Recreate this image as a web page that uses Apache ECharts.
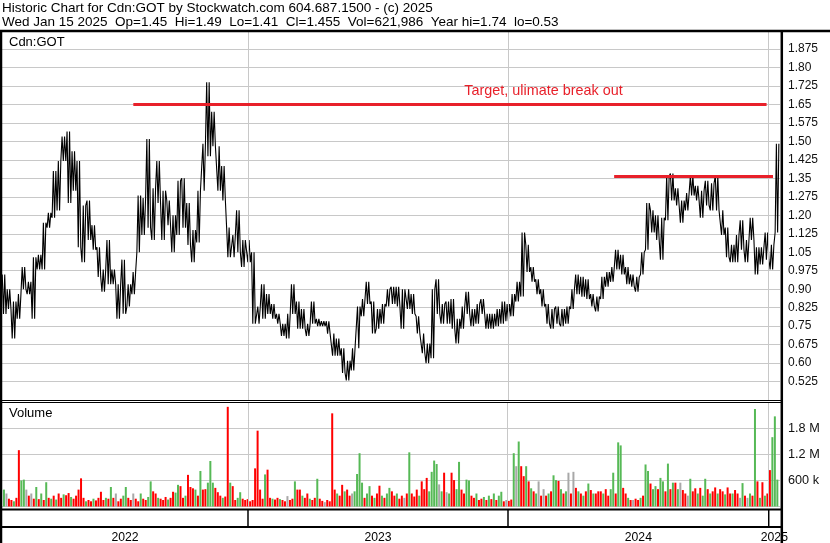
<!DOCTYPE html>
<html><head><meta charset="utf-8">
<script src="https://cdn.jsdelivr.net/npm/echarts@6/dist/echarts.min.js"></script>
<style>html,body{margin:0;padding:0;background:#fff}#c{width:830px;height:543px}</style>
</head><body><div id="c"></div>
<script>
// ---- DATA ----
// weekly high / low of Cdn:GOT, one entry per week starting Fri 2022-01-21
const weekHi = [0.96,0.90,0.85,0.88,0.99,0.93,1.03,1.04,1.17,1.21,1.38,1.42,1.52,1.54,1.46,1.42,1.24,1.26,1.16,1.07,
0.98,1.10,0.98,0.92,1.02,0.92,0.97,1.28,1.27,1.51,1.31,1.42,1.30,1.26,1.20,1.34,1.35,1.25,1.14,1.30,
1.49,1.74,1.62,1.48,1.40,1.15,1.12,1.22,1.10,1.10,1.05,0.83,0.92,0.88,0.84,0.80,0.76,0.80,0.92,0.85,
0.82,0.76,0.85,0.78,0.77,0.77,0.72,0.70,0.66,0.61,0.66,0.83,0.86,0.93,0.85,0.82,0.84,0.90,0.91,0.91,
0.90,0.90,0.88,0.79,0.72,0.68,0.90,0.94,0.84,0.85,0.86,0.78,0.83,0.89,0.82,0.84,0.86,0.80,0.80,0.82,
0.85,0.84,0.88,0.93,1.13,1.08,0.99,0.94,0.90,0.84,0.82,0.83,0.82,0.83,0.90,0.96,0.95,0.94,0.88,0.87,
0.95,0.97,0.99,1.06,1.04,0.99,0.96,0.95,1.05,1.25,1.22,1.20,1.19,1.36,1.37,1.31,1.26,1.29,1.36,1.32,
1.30,1.34,1.33,1.36,1.22,1.15,1.08,1.12,1.18,1.10,1.19,1.07,1.07,1.13,1.08,1.49];
const weekLo = [0.80,0.82,0.70,0.78,0.90,0.88,0.78,0.98,0.98,1.15,1.19,1.22,1.42,1.25,1.30,1.07,1.01,1.10,1.06,0.95,
0.89,0.92,0.92,0.78,0.80,0.83,0.88,1.05,1.12,1.15,1.10,1.25,1.10,1.16,1.05,1.12,1.15,1.08,1.01,1.09,
1.30,1.44,1.48,1.30,1.26,1.03,1.03,1.05,0.99,1.01,0.76,0.76,0.78,0.80,0.78,0.76,0.71,0.70,0.80,0.74,
0.74,0.71,0.76,0.75,0.75,0.72,0.63,0.63,0.56,0.53,0.57,0.66,0.79,0.84,0.72,0.74,0.76,0.83,0.84,0.83,
0.74,0.82,0.80,0.72,0.64,0.60,0.62,0.80,0.76,0.76,0.74,0.68,0.74,0.80,0.75,0.76,0.80,0.74,0.74,0.75,
0.76,0.77,0.79,0.85,0.87,0.97,0.93,0.88,0.83,0.76,0.74,0.76,0.75,0.76,0.82,0.88,0.87,0.86,0.83,0.81,
0.86,0.91,0.93,0.98,0.96,0.92,0.91,0.89,0.96,1.06,1.13,1.10,1.02,1.18,1.26,1.24,1.17,1.22,1.28,1.26,
1.19,1.24,1.22,1.22,1.12,1.03,1.01,1.01,1.06,1.01,1.10,0.96,1.00,1.02,0.98,1.13];
// last session (header)
const lastDay = {date:'2025-01-15', label:'Wed Jan 15 2025', op:1.45, hi:1.49, lo:1.41, cl:1.455, vol:'621,986'};
const yearHi = 1.74, yearLo = 0.53;
// volume, in thousands, two bars per week; colour codes r=down g=up n=unchanged
const volK = [390,300,180,150,120,200,1300,600,620,390,250,300,180,450,170,300,150,560,200,180,
250,160,300,200,280,260,310,220,180,250,390,650,200,120,150,120,180,140,200,340,
150,200,180,450,200,300,120,180,250,450,200,150,300,180,120,300,180,150,220,580,
350,300,200,180,150,220,160,200,340,320,500,470,200,250,730,450,420,390,250,820,
390,400,550,1050,550,430,330,250,200,230,2300,550,470,150,200,330,180,150,170,120,
150,880,1750,390,180,740,850,200,180,160,200,170,150,120,240,150,180,580,390,390,
250,200,300,180,150,200,640,180,130,100,150,120,2150,390,300,250,500,350,390,250,
300,350,750,1230,550,200,300,470,250,200,300,480,250,200,300,430,350,250,300,180,
250,200,300,1250,300,230,390,250,580,400,660,350,800,1060,980,510,350,780,330,300,
780,610,400,1030,390,300,620,600,250,200,300,150,180,220,150,250,170,300,150,250,
340,120,150,130,160,1230,930,1500,930,700,930,580,420,350,300,580,250,400,250,300,
350,720,610,590,400,300,350,780,300,800,430,350,300,250,350,530,380,300,300,350,
350,300,400,250,400,780,300,1480,1410,430,300,200,150,150,180,150,200,250,970,820,
530,400,470,400,660,580,350,990,400,550,550,400,550,380,300,250,640,350,420,300,
430,250,640,400,300,350,440,300,400,350,280,440,300,300,380,300,200,540,250,200,
300,250,2250,580,200,560,250,300,840,1600,2080,620];
const volC = "gnrrgrrggnrnrgrgrgrg"+"rgrrgrrgrrrrrgrrgrrr"+"rgrgrnrrggrrnrrgrrgg"+"rrgrrrgrrggrrgrrrgrg"+
"rrgggrrrgrrgrrggrrrr"+"rrrrrgrrgrrgrrnrrgrr"+"grrgrrgrrnrrrrgrrgrr"+"nggggrggrgrrgrggrrgr"+
"rnrgrrrgrrrggggngrng"+"rrggrrggrrgrrgrgrgrg"+"grnrrgngrrgrgrgnrnrg"+"rggrgrgnrnrgrgrgrgrr"+
"rgrrggrggrrgrnrrgrgg"+"rggrggrgrgrgnrrngrrg"+"rggrgrrgrrgrrgrrngrn"+"grgrgrgrrggg";
const yearLabels = ['2022','2023','2024','2025'];
// annotations
const targetLine = {from:'2022-07-24', to:'2024-12-29', value:1.65, text:'Target, ulimate break out', textAt:'2023-10-31', textValue:1.705};
const resistLine = {from:'2024-05-29', to:'2025-01-07', value:1.36};

// ---- BUILD ----
const DAY = 86400000;
const t = s => Date.parse(s + 'T00:00:00Z');
const seriesStart = Date.UTC(2022,0,21);
const xMin = Date.UTC(2022,0,20,16), xMax = Date.UTC(2025,0,16,20);
const RED = '#e8202a', GRID = '#c8c8c8', FONT = 'Liberation Sans, Arial, sans-serif';

// each week's high/low drawn as a dense high-low stroke pattern (like daily range bars)
const pricePts = [];
for (let w = 0; w < weekHi.length; w++) {
  const t0 = seriesStart + 7*w*DAY;
  const mid = (weekHi[w] + weekLo[w]) / 2;
  const next = w + 1 < weekHi.length ? (weekHi[w+1] + weekLo[w+1]) / 2 : lastDay.cl;
  const seq = next >= mid ? [weekLo[w], weekHi[w]] : [weekHi[w], weekLo[w]];
  pricePts.push([t0, seq[0]], [t0 + 1.75*DAY, seq[1]], [t0 + 3.5*DAY, seq[0]], [t0 + 5.25*DAY, seq[1]]);
}
pricePts.push([t(lastDay.date), lastDay.cl]);

const colorMap = {r:'#ff0000', g:'#56b956', n:'#a8a8a8'};
const volData = volK.map((v, j) => ({value:[seriesStart + (3.5*j + 1)*DAY, v], itemStyle:{color:colorMap[volC[j]]}}));
const yearStarts = yearLabels.slice(1).map(y => Date.UTC(+y,0,1));

const header = 'Historic Chart for Cdn:GOT by Stockwatch.com 604.687.1500 - (c) 2025\n' +
  `${lastDay.label}  Op=${lastDay.op}  Hi=${lastDay.hi}  Lo=${lastDay.lo}  Cl=${lastDay.cl}  Vol=${lastDay.vol}  Year hi=${yearHi}  lo=${yearLo}`;

const priceFmt = v => { let s = (Math.round(v*1000)/1000).toFixed(3); if (s.endsWith('0')) s = s.slice(0,-1); return s; };
const volFmt = v => v >= 1000 ? (v/1000).toFixed(1) + ' M' : v + ' k';

const xBase = {type:'time', min:xMin, max:xMax, axisLine:{show:false}, axisTick:{show:false}, axisLabel:{show:false}, splitLine:{show:false}};
const chart = echarts.init(document.getElementById('c'), null, {renderer:'canvas'});
chart.setOption({
  animation:false,
  backgroundColor:'#fff',
  title:[
    {text:header, left:2, top:2, padding:0, textStyle:{fontFamily:FONT, fontSize:13.5, fontWeight:'normal', color:'#000', lineHeight:13.4}},
    {text:'Cdn:GOT', left:9, top:35.5, padding:0, textStyle:{fontFamily:FONT, fontSize:13, fontWeight:'normal', color:'#000', lineHeight:13}},
    {text:'Volume', left:9, top:406.5, padding:0, textStyle:{fontFamily:FONT, fontSize:13, fontWeight:'normal', color:'#000', lineHeight:13}}
  ],
  grid:[
    {left:2, width:778, top:30.5, height:369.6},
    {left:2, width:778, top:402.5, height:104},
    {left:2, width:778, top:509, height:34}
  ],
  xAxis:[Object.assign({gridIndex:0}, xBase), Object.assign({gridIndex:1}, xBase), Object.assign({gridIndex:2}, xBase)],
  yAxis:[
    {gridIndex:0, type:'value', position:'right', min:0.45, max:1.95, interval:0.075,
      axisLine:{show:false}, axisTick:{show:false},
      axisLabel:{formatter:priceFmt, showMinLabel:false, showMaxLabel:false, margin:8, color:'#111', fontFamily:FONT, fontSize:12},
      splitLine:{show:true, lineStyle:{color:GRID, width:1}}},
    {gridIndex:1, type:'value', position:'right', min:0, max:2400, interval:600,
      axisLine:{show:false}, axisTick:{show:false},
      axisLabel:{formatter:volFmt, showMinLabel:false, showMaxLabel:false, margin:8, color:'#111', fontFamily:FONT, fontSize:12.7},
      splitLine:{show:true, lineStyle:{color:GRID, width:1}}},
    {gridIndex:2, type:'value', min:0, max:1, show:false}
  ],
  series:[
    {type:'line', xAxisIndex:0, yAxisIndex:0, data:[], z:1, silent:true,
      markLine:{silent:true, symbol:['none','none'], label:{show:false}, lineStyle:{color:GRID, width:1, type:'solid'},
        data:yearStarts.map(x => ({xAxis:x}))}},
    {type:'line', xAxisIndex:1, yAxisIndex:1, data:[], z:1, silent:true,
      markLine:{silent:true, symbol:['none','none'], label:{show:false}, lineStyle:{color:GRID, width:1, type:'solid'},
        data:yearStarts.map(x => ({xAxis:x}))}},
    {type:'line', name:'Cdn:GOT', xAxisIndex:0, yAxisIndex:0, data:pricePts, showSymbol:false, z:4,
      lineStyle:{color:'#000', width:1.1}, itemStyle:{color:'#000'},
      markLine:{silent:true, symbol:['none','none'], label:{show:false}, lineStyle:{color:RED, width:3, type:'solid'},
        data:[
          [{coord:[t(targetLine.from), targetLine.value]}, {coord:[t(targetLine.to), targetLine.value]}],
          [{coord:[t(resistLine.from), resistLine.value]}, {coord:[t(resistLine.to), resistLine.value]}]
        ]},
      markPoint:{silent:true, symbol:'circle', symbolSize:1, itemStyle:{color:'rgba(0,0,0,0)'},
        data:[{coord:[t(targetLine.textAt), targetLine.textValue],
          label:{show:true, formatter:targetLine.text, position:'right', distance:0, color:RED, fontFamily:FONT, fontSize:14.4}}]}},
    {type:'bar', name:'Volume', xAxisIndex:1, yAxisIndex:1, data:volData, barWidth:2, z:3},
    {type:'custom', xAxisIndex:2, yAxisIndex:2, z:5,
      data:yearLabels.map(y => [Date.UTC(+y,0,1), 0.5, Date.UTC(+y+1,0,1)]),
      renderItem:function(params, api){
        const cs = params.coordSys;
        const x0 = api.coord([api.value(0), 0.5])[0];
        const x1 = api.coord([api.value(2), 0.5])[0];
        const a = Math.max(x0, cs.x), b = Math.min(x1, cs.x + cs.width);
        const ch = [{type:'text', style:{text:yearLabels[params.dataIndex], x:(a+b)/2, y:cs.y + 28.5,
          align:'center', verticalAlign:'middle', font:'12.2px ' + FONT, fill:'#000'}}];
        if (x0 > cs.x + 1) ch.push({type:'line', shape:{x1:x0, y1:cs.y, x2:x0, y2:cs.y + 18}, style:{stroke:'#000', lineWidth:1.5}});
        return {type:'group', children:ch};
      }}
  ],
  graphic:[
    {type:'line', z:100, shape:{x1:0, y1:31, x2:830, y2:31}, style:{stroke:'#000', lineWidth:2.5}},
    {type:'line', z:100, shape:{x1:1, y1:31, x2:1, y2:543}, style:{stroke:'#000', lineWidth:2.5}},
    {type:'line', z:100, shape:{x1:781.8, y1:31, x2:781.8, y2:543}, style:{stroke:'#000', lineWidth:2.5}},
    {type:'line', z:100, shape:{x1:0, y1:400.5, x2:782, y2:400.5}, style:{stroke:'#000', lineWidth:1}},
    {type:'line', z:100, shape:{x1:0, y1:402.5, x2:782, y2:402.5}, style:{stroke:'#000', lineWidth:1}},
    {type:'line', z:100, shape:{x1:0, y1:509.5, x2:782, y2:509.5}, style:{stroke:'#000', lineWidth:2}},
    {type:'line', z:100, shape:{x1:0, y1:527, x2:782, y2:527}, style:{stroke:'#000', lineWidth:2}}
  ]
});
</script></body></html>
